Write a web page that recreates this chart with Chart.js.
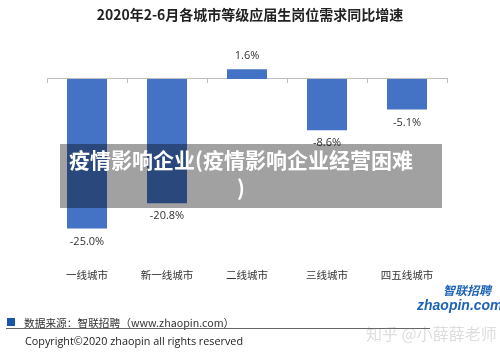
<!DOCTYPE html>
<html><head><meta charset="utf-8">
<script src="https://cdn.jsdelivr.net/npm/chart.js@4/dist/chart.umd.min.js"></script>
<style>
html,body{margin:0;padding:0;background:#fff;}
#wrap{position:relative;width:500px;height:354px;overflow:hidden;font-family:"Noto Sans CJK SC","Open Sans",sans-serif;}
canvas{position:absolute;left:0;top:0;}
.abs{position:absolute;white-space:nowrap;}
#title{left:0;width:500px;top:4px;text-align:center;font-size:14px;font-weight:bold;color:#222;line-height:20px;}
#overlay{left:60px;top:144px;width:382px;height:64px;background:rgba(0,0,0,0.37);}
#ovtext{left:60px;top:145px;width:362px;text-align:center;color:#fff;font-weight:bold;font-size:21px;line-height:28px;white-space:normal;}
#sq{left:7px;top:318px;width:8px;height:8px;background:#1a56a8;}
#src{left:24px;top:315px;font-size:10.7px;color:#333;line-height:16px;}
#rule{left:6px;top:328px;width:424px;height:1px;background:#666;}
#copy{left:25px;top:333px;font-size:10.8px;color:#222;line-height:16px;font-family:"Open Sans",sans-serif;}
#logo1{left:443px;top:283px;font-size:12px;font-weight:bold;font-style:italic;color:#1f63b6;line-height:14px;}
#logo2{left:417px;top:297px;font-size:14px;font-weight:bold;font-style:italic;color:#1f63b6;line-height:16px;font-family:"Liberation Sans",sans-serif;}
#wm{left:366px;top:323px;font-size:16px;color:rgba(120,120,120,0.25);line-height:20px;}
</style></head>
<body><div id="wrap">
<canvas id="c" width="500" height="354"></canvas>
<div class="abs" id="title">2020年2-6月各城市等级应届生岗位需求同比增速</div>
<div class="abs" id="overlay"></div>
<div class="abs" id="ovtext">疫情影响企业(疫情影响企业经营困难<br>)</div>
<div class="abs" id="sq"></div>
<div class="abs" id="src">数据来源：智联招聘（www.zhaopin.com）</div>
<div class="abs" id="rule"></div>
<div class="abs" id="copy">Copyright©2020 zhaopin all rights reserved</div>
<div class="abs" id="logo1">智联招聘</div>
<div class="abs" id="logo2">zhaopin.com</div>
<div class="abs" id="wm">知乎 @小薛薛老师</div>
</div>
<script>
const categories = ["一线城市", "新一线城市", "二线城市", "三线城市", "四五线城市"];
const growth = [-25.0, -20.8, 1.6, -8.6, -5.1];
const valueLabels = ["-25.0%", "-20.8%", "1.6%", "-8.6%", "-5.1%"];

const labelPlugin = {
  id: 'valueLabels',
  afterDatasetsDraw(chart) {
    const ctx = chart.ctx;
    const meta = chart.getDatasetMeta(0);
    ctx.save();
    ctx.font = '11px "Open Sans", sans-serif';
    ctx.fillStyle = '#333';
    ctx.textAlign = 'center';
    ctx.textBaseline = 'middle';
    meta.data.forEach((bar, i) => {
      const v = growth[i];
      const y = v >= 0 ? bar.y - 13 : bar.y + 13;
      ctx.fillText(valueLabels[i], bar.x, y);
    });
    ctx.restore();
  }
};

new Chart(document.getElementById('c'), {
  type: 'bar',
  data: {
    labels: categories,
    datasets: [{
      data: growth,
      backgroundColor: '#4472C4',
      barPercentage: 0.5,
      categoryPercentage: 1.0,
      xAxisID: 'x',
      yAxisID: 'y'
    }]
  },
  options: {
    responsive: false,
    animation: false,
    events: [],
    layout: { padding: { left: 47, right: 53, top: 43, bottom: 63 } },
    plugins: { legend: { display: false }, tooltip: { enabled: false } },
    scales: {
      y: {
        display: false,
        min: -30, max: 6
      },
      x: {
        position: 'bottom',
        grid: { display: false, drawTicks: false },
        border: { display: false },
        ticks: {
          padding: 10,
          color: '#333',
          font: { family: '"Noto Sans CJK SC", sans-serif', size: 10.5 }
        }
      },
      x2: {
        type: 'category',
        labels: categories,
        position: { y: 0 },
        offset: true,
        grid: { offset: true, drawOnChartArea: false, drawTicks: true, tickLength: 4, color: '#bfbfbf' },
        border: { display: true, color: '#bfbfbf', width: 1 },
        ticks: { display: false }
      }
    }
  },
  plugins: [labelPlugin]
});
</script>
</body></html>
